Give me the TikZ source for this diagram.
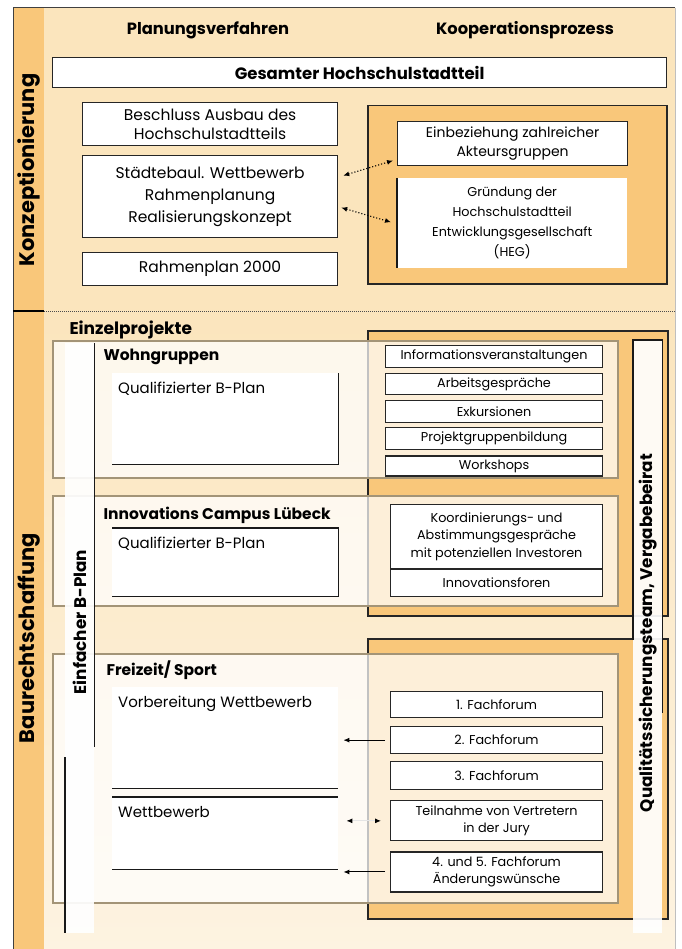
\documentclass[tikz,border=0pt]{standalone}
\usepackage{fontspec}
\setmainfont{Poppins}
\usetikzlibrary{arrows.meta,positioning}
\definecolor{cream}{HTML}{FBE5BD}
\definecolor{creamlow}{HTML}{FDF3E1}
\definecolor{band}{HTML}{F9C77A}
\definecolor{tanline}{HTML}{A39477}
\tikzset{
  headline/.style={font=\bfseries\fontsize{16.3}{18}\selectfont},
  grouphead/.style={anchor=west, font=\bfseries\fontsize{15.5}{18}\selectfont},
  sidetitle/.style={rotate=90, font=\bfseries\fontsize{21}{24}\selectfont},
  striptitle/.style={rotate=90, font=\bfseries\fontsize{16.8}{18}\selectfont},
  bigbox/.style={rectangle, draw=black!85, line width=1.2pt, fill=white, align=center, anchor=north west, inner sep=0pt, font=\fontsize{15.5}{19}\selectfont},
  smallbox/.style={rectangle, draw=black!85, line width=1.1pt, fill=white, align=center, anchor=north west, inner sep=0pt, minimum width=212pt, font=\fontsize{12.8}{17.5}\selectfont},
  plainbox/.style={rectangle, fill=white, anchor=north west, inner sep=0pt, minimum width=226pt},
  coopbox/.style={rectangle, draw=black!85, line width=1.5pt, fill=band, anchor=north west, inner sep=0pt},
  group/.style={rectangle, draw=tanline, line width=2pt, fill=white, fill opacity=0.72, anchor=north west, inner sep=0pt, minimum width=565pt},
  strip/.style={rectangle, fill=white, fill opacity=0.92, anchor=north west, inner sep=0pt, minimum width=29pt},
  inlabel/.style={anchor=north west, inner sep=0pt, xshift=6pt, yshift=-9pt, font=\fontsize{15}{18}\selectfont},
  edge/.style={line width=1.3pt, black!90},
  line/.style={-{Latex[length=6pt, width=5pt]}, line width=1pt},
  dotarrow/.style={{Latex[length=6pt, width=5pt]}-{Latex[length=6pt, width=5pt]}, dotted, line width=1.1pt}
}
\begin{document}
\begin{tikzpicture}[x=1pt, y=-1pt, node distance=5pt]
  \useasboundingbox (0,0) rectangle (681,949);
  % Hintergrund
  \fill[cream] (13,8) rectangle (675,311);
  \shade[top color=cream, bottom color=creamlow] (13,311) rectangle (675,949);
  \fill[band] (13,8) rectangle (44,949);
  \draw[black!75, line width=1pt] (13,949) -- (13,8) -- (675,8);
  \draw[black!25, line width=1pt] (675,8) -- (675,949);
  \draw[line width=1.2pt] (13,311) -- (44,311);
  \draw[black!70, densely dotted, line width=1pt] (44,311) -- (675,311);
  \node[sidetitle] (konz) at (29,170) {Konzeptionierung};
  \node[sidetitle] (baur) at (29,638) {Baurechtschaffung};

  % Konzeptionierung
  \node[headline] (planung) at (208,30) {Planungsverfahren};
  \node[headline] (koop) at (525,30) {Kooperationsprozess};
  \node[bigbox, font=\bfseries\fontsize{16.5}{19}\selectfont, minimum width=614pt, minimum height=30pt] (gesamt) at (52,57) {Gesamter Hochschulstadtteil};
  \node[bigbox, minimum width=255pt, minimum height=43pt] (beschluss) at (82,102) {Beschluss Ausbau des\\Hochschulstadtteils};
  \node[bigbox, minimum width=255pt, minimum height=82pt, font=\fontsize{15.5}{22}\selectfont] (staedtebau) at (82,155) {Städtebaul. Wettbewerb\\Rahmenplanung\\Realisierungskonzept};
  \node[bigbox, minimum width=255pt, minimum height=33pt] (rahmenplan) at (82,252) {Rahmenplan 2000};
  \node[coopbox, minimum width=299pt, minimum height=178pt] (koopframe) at (367,105) {};
  \node[bigbox, minimum width=230pt, minimum height=44pt, font=\fontsize{14}{19}\selectfont] (einbez) at (397,121) {Einbeziehung zahlreicher\\Akteursgruppen};
  \node[plainbox, align=center, minimum width=230pt, minimum height=90pt, font=\fontsize{12.8}{20}\selectfont] (heg) at (397,178) {Gründung der\\Hochschulstadtteil\\Entwicklungsgesellschaft\\(HEG)};
  \draw[edge] (heg.north west) -- (heg.south west);
  \draw[dotarrow] ([xshift=5pt, yshift=21pt]staedtebau.east) -- ([xshift=-4pt, yshift=-17pt]einbez.west);
  \draw[dotarrow] ([xshift=3pt, yshift=-11pt]staedtebau.east) -- ([xshift=-6pt, yshift=1pt]heg.west);

  % Einzelprojekte
  \node[headline, anchor=west, font=\bfseries\fontsize{17}{19}\selectfont] (einzel) at (66,330) {Einzelprojekte};
  \node[coopbox, minimum width=300pt, minimum height=285pt] (koopwohn) at (367,330) {};
  \node[coopbox, minimum width=300pt, minimum height=280pt] (koopfrei) at (367,638) {};
  \node[group, minimum height=137pt] (wohngrp) at (52,340) {};
  \node[group, minimum height=110pt] (innovgrp) at (52,495) {};
  \node[group, minimum height=249pt] (freigrp) at (52,653) {};

  \node[strip, minimum height=590pt] (einfach) at (65,343) {};
  \draw[edge] (einfach.north east) -- ([yshift=-404pt]einfach.north east);
  \draw[edge] ([yshift=-414pt]einfach.north west) -- (einfach.south west);
  \node[striptitle] (einfachtxt) at (80,622) {Einfacher B-Plan};
  \node[strip, minimum height=593pt] (qual) at (633,340) {};
  \draw[edge] ([yshift=-300pt]qual.north west) -- (qual.north west) -- (qual.north east) -- ([yshift=-373pt]qual.north east);
  \node[striptitle] (qualtxt) at (648,633) {Qualitätssicherungsteam, Vergabebeirat};

  % Wohngruppen
  \node[grouphead] (wohn) at (100,357) {Wohngruppen};
  \node[plainbox, minimum height=91pt, label={[inlabel]north west:Qualifizierter B-Plan}] (wohnbplan) at (112,373) {};
  \draw[edge] (wohnbplan.north east) -- (wohnbplan.south east) -- (wohnbplan.south west);
  \node[smallbox, minimum width=217pt, minimum height=22pt] (info) at (385,345) {Informationsveranstaltungen};
  \node[smallbox, minimum width=217pt, minimum height=21pt, below=of info] (arbeit) {Arbeitsgespräche};
  \node[smallbox, minimum width=217pt, minimum height=22pt, below=of arbeit] (exkursion) {Exkursionen};
  \node[smallbox, minimum width=217pt, minimum height=22pt, below=4pt of exkursion] (projekt) {Projektgruppenbildung};
  \node[smallbox, minimum width=217pt, minimum height=20pt, below=of projekt] (workshop) {Workshops};

  % Innovations Campus
  \node[grouphead] (campus) at (100,515) {Innovations Campus Lübeck};
  \node[plainbox, minimum height=68pt, label={[inlabel]north west:Qualifizierter B-Plan}] (campusbplan) at (112,528) {};
  \draw[edge] (campusbplan.north west) -- (campusbplan.north east) -- (campusbplan.south east) -- (campusbplan.south west);
  \node[smallbox, minimum height=64pt] (koord) at (390,504) {Koordinierungs- und\\Abstimmungsgespräche\\mit potenziellen Investoren};
  \node[smallbox, minimum height=27pt, below=0pt of koord] (innoforen) {Innovationsforen};

  % Freizeit/ Sport
  \node[grouphead] (sport) at (103,670) {Freizeit/ Sport};
  \node[plainbox, minimum height=101pt, label={[inlabel]north west:Vorbereitung Wettbewerb}] (vorb) at (112,687) {};
  \draw[edge] (vorb.south west) -- (vorb.south east);
  \node[plainbox, minimum height=72pt, label={[inlabel]north west:Wettbewerb}] (wettb) at (112,797) {};
  \draw[edge] (wettb.north west) -- (wettb.north east);
  \draw[edge] (wettb.south west) -- (wettb.south east);
  \node[smallbox, minimum height=26pt] (fach1) at (390,691) {1. Fachforum};
  \node[smallbox, minimum height=27pt, below=8pt of fach1] (fach2) {2. Fachforum};
  \node[smallbox, minimum height=28pt, below=7pt of fach2] (fach3) {3. Fachforum};
  \node[smallbox, minimum height=40pt, below=10pt of fach3] (jury) {Teilnahme von Vertretern\\in der Jury};
  \node[smallbox, minimum height=40pt, below=10pt of jury] (fach45) {4. und 5. Fachforum\\Änderungswünsche};
  \draw[line] ([xshift=-5pt]fach2.west) -- ([xshift=5pt]vorb.east |- fach2.west);
  \draw[line, black!10, {Latex[length=6pt, width=5pt, black]}-{Latex[length=6pt, width=5pt, black]}] ([xshift=-9pt]jury.west) -- ([xshift=8pt]wettb.east |- jury.west);
  \draw[line] ([xshift=-5pt]fach45.west) -- ([xshift=5pt]wettb.east |- fach45.west);
\end{tikzpicture}
\end{document}
